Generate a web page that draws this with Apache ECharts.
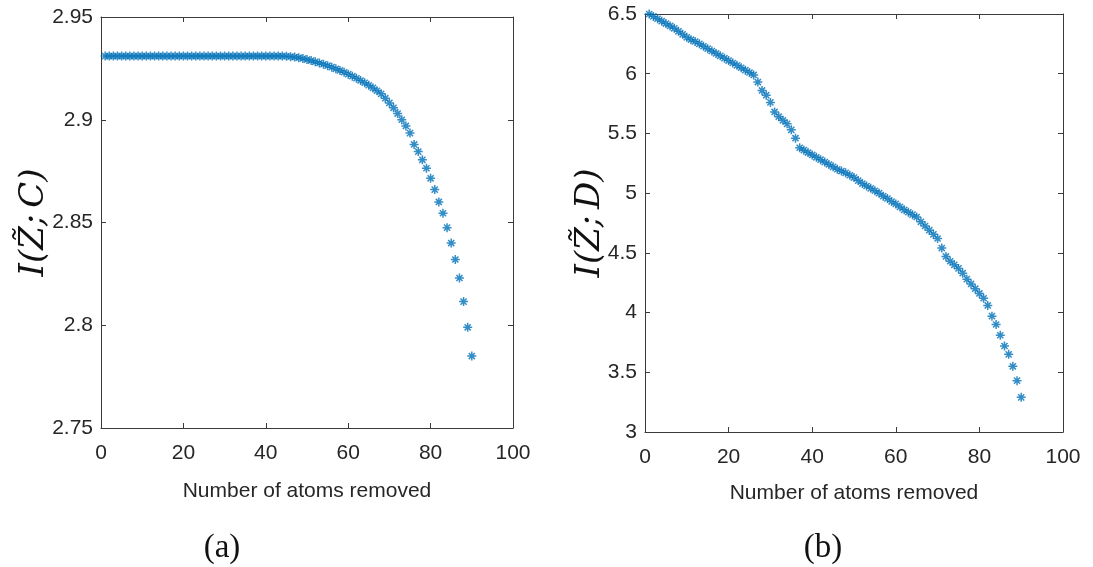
<!DOCTYPE html>
<html>
<head>
<meta charset="utf-8">
<script src="https://cdn.jsdelivr.net/npm/echarts@6/dist/echarts.min.js"></script>
<style>html,body{margin:0;padding:0;background:#fff;}#c{width:1093px;height:567px;}</style>
</head>
<body>
<div id="c"></div>
<script>
// Number of atoms removed (x values, both panels)
const atomsRemoved = [1,2,3,4,5,6,7,8,9,10,11,12,13,14,15,16,17,18,19,20,21,22,23,24,25,26,27,28,29,30,
  31,32,33,34,35,36,37,38,39,40,41,42,43,44,45,46,47,48,49,50,51,52,53,54,55,56,57,58,59,60,
  61,62,63,64,65,66,67,68,69,70,71,72,73,74,75,76,77,78,79,80,81,82,83,84,85,86,87,88,89,90];

// Panel (a): I(Z~;C)
const infoC = [2.931,2.931,2.931,2.931,2.931,2.931,2.931,2.931,2.931,2.931,
  2.931,2.931,2.931,2.931,2.931,2.931,2.931,2.931,2.931,2.931,
  2.931,2.931,2.931,2.931,2.931,2.931,2.931,2.931,2.931,2.931,
  2.931,2.931,2.931,2.931,2.931,2.931,2.931,2.931,2.931,2.931,
  2.931,2.931,2.931,2.931,2.9309,2.9307,2.9305,2.9302,2.9298,2.9293,
  2.9288,2.9282,2.9276,2.9270,2.9263,2.9256,2.9248,2.9240,2.9231,2.9222,
  2.9212,2.9202,2.9191,2.9180,2.9168,2.9155,2.9141,2.9126,2.9105,2.9082,
  2.9058,2.9030,2.9000,2.8970,2.8935,2.8880,2.8845,2.8805,2.8764,2.8715,
  2.8660,2.8600,2.8545,2.8475,2.8400,2.8320,2.8230,2.8115,2.7990,2.7850];

// Panel (b): I(Z~;D)
const infoD = [6.50,6.48,6.46,6.44,6.42,6.40,6.38,6.355,6.33,6.305,
  6.285,6.27,6.25,6.23,6.21,6.19,6.17,6.15,6.13,6.11,
  6.09,6.07,6.05,6.03,6.01,5.99,5.93,5.86,5.82,5.76,
  5.68,5.64,5.61,5.58,5.53,5.46,5.38,5.36,5.34,5.32,
  5.30,5.28,5.26,5.24,5.22,5.20,5.185,5.17,5.15,5.13,
  5.105,5.08,5.06,5.04,5.02,5.00,4.975,4.955,4.93,4.91,
  4.885,4.86,4.84,4.82,4.80,4.76,4.725,4.69,4.655,4.62,
  4.54,4.47,4.43,4.40,4.37,4.33,4.28,4.24,4.20,4.16,
  4.12,4.06,3.97,3.90,3.81,3.72,3.65,3.55,3.43,3.29];

const xTicks = {min: 0, max: 100, interval: 20};
const yTicksA = {min: 2.75, max: 2.95, interval: 0.05};
const yTicksB = {min: 3, max: 6.5, interval: 0.5};

const xTitle = 'Number of atoms removed';
const yTitleA = 'I(Z\u0303;\u2009C)';
const yTitleB = 'I(Z\u0303;\u2009D)';
const panelTags = ['(a)', '(b)'];

const AX = '#3a3a3a', TXT = '#262626', MK = '#0070B8';
const sansFont = '"Liberation Sans", Arial, sans-serif';
const serifFont = '"DejaVu Serif", "Liberation Serif", serif';
const tagFont = '"Liberation Serif", "DejaVu Serif", serif';
const star = 'path://M5 0L5 10M0 5L10 5M1.6 1.6L8.4 8.4M8.4 1.6L1.6 8.4';

function fmt(v){ return String(+v.toFixed(2)); }

function xAx(grid, pos, showLab, name, gap){
  return Object.assign({
    type: 'value', gridIndex: grid, position: pos,
    axisLine: {show: true, onZero: false, lineStyle: {color: AX, width: 1}},
    axisTick: {show: true, inside: true, length: 5, lineStyle: {color: AX}},
    splitLine: {show: false},
    axisLabel: {show: showLab, color: TXT, fontFamily: sansFont, fontSize: 21, margin: 15, formatter: fmt},
    name: name || '', nameLocation: 'middle', nameGap: gap || 0, nameMoveOverlap: false,
    nameTextStyle: {color: TXT, fontFamily: sansFont, fontSize: 21}
  }, xTicks);
}
function yAx(grid, pos, showLab, ticks, name, gap){
  return Object.assign({
    type: 'value', gridIndex: grid, position: pos,
    axisLine: {show: true, onZero: false, lineStyle: {color: AX, width: 1}},
    axisTick: {show: true, inside: true, length: 5, lineStyle: {color: AX}},
    splitLine: {show: false},
    axisLabel: {show: showLab, color: TXT, fontFamily: sansFont, fontSize: 21, margin: 8, formatter: fmt},
    name: name || '', nameLocation: 'middle', nameGap: gap || 0, nameRotate: 90, nameMoveOverlap: false,
    nameTextStyle: {color: '#111', fontFamily: serifFont, fontStyle: 'italic', fontSize: 34}
  }, ticks);
}

const chart = echarts.init(document.getElementById('c'), null, {renderer: 'canvas'});
chart.setOption({
  animation: false,
  backgroundColor: '#fff',
  grid: [
    {left: 101, top: 17, width: 412, height: 411},
    {left: 645, top: 14, width: 418, height: 418}
  ],
  xAxis: [
    xAx(0, 'bottom', true, xTitle, 53),
    xAx(0, 'top', false),
    xAx(1, 'bottom', true, xTitle, 51),
    xAx(1, 'top', false)
  ],
  yAxis: [
    yAx(0, 'left', true, yTicksA, yTitleA, 50),
    yAx(0, 'right', false, yTicksA),
    yAx(1, 'left', true, yTicksB, yTitleB, 38),
    yAx(1, 'right', false, yTicksB)
  ],
  series: [
    {type: 'scatter', xAxisIndex: 0, yAxisIndex: 0, symbol: star, symbolSize: 9,
     itemStyle: {color: 'none', borderColor: MK, borderWidth: 1.5},
     data: atomsRemoved.map((x, i) => [x, infoC[i]])},
    {type: 'scatter', xAxisIndex: 2, yAxisIndex: 2, symbol: star, symbolSize: 9,
     itemStyle: {color: 'none', borderColor: MK, borderWidth: 1.5},
     data: atomsRemoved.map((x, i) => [x, infoD[i]])}
  ],
  graphic: [
    {type: 'text', x: 222, y: 548, style: {text: panelTags[0], font: '33px ' + tagFont, fill: '#111', align: 'center', verticalAlign: 'middle'}},
    {type: 'text', x: 823, y: 548, style: {text: panelTags[1], font: '33px ' + tagFont, fill: '#111', align: 'center', verticalAlign: 'middle'}}
  ]
});
</script>
</body>
</html>
